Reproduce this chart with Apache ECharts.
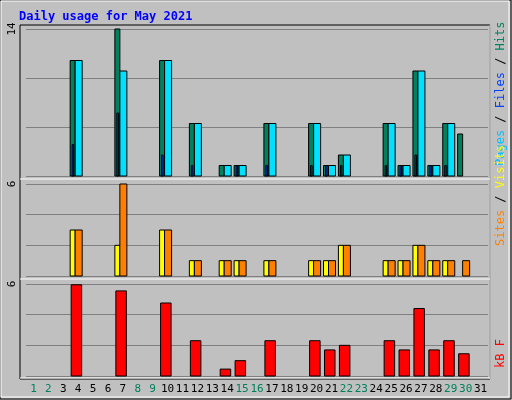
<!DOCTYPE html>
<html><head><meta charset="utf-8">
<script src="https://cdn.jsdelivr.net/npm/echarts@6/dist/echarts.min.js"></script>
<style>html,body{margin:0;padding:0;background:#c0c0c0}#c{width:512px;height:400px}</style>
</head><body><div id="c"></div>
<script>
var days = []
for (var i = 1; i <= 31; i++) days.push(String(i))
var weekend = ['1','2','8','9','15','16','22','23','29','30']
// 每日数据
var hits   = [0,0,0,11,0,0,14,0,0,11,0,5,0,1,1,0,5,0,0,5,1,2,0,0,5,1,10,1,5,4,0]
var files  = [0,0,0,11,0,0,10,0,0,11,0,5,0,1,1,0,5,0,0,5,1,2,0,0,5,1,10,1,5,0,0]
var pages  = [0,0,0,3,0,0,6,0,0,2,0,1,0,0,1,0,1,0,0,1,1,1,0,0,1,1,2,1,1,0,0]
var sites  = [0,0,0,3,0,0,2,0,0,3,0,1,0,1,1,0,1,0,0,1,1,2,0,0,1,1,2,1,1,0,0]
var visits = [0,0,0,3,0,0,6,0,0,3,0,1,0,1,1,0,1,0,0,1,1,2,0,0,1,1,2,1,1,1,0]
var kbytes = [0,0,0,5.95,0,0,5.55,0,0,4.76,0,2.3,0,0.45,1.0,0,2.3,0,0,2.3,1.7,2.0,0,0,2.3,1.7,4.4,1.7,2.3,1.45,0]

var chart = echarts.init(document.getElementById('c'))

function barSeries(data, grid, color, x0, x1) {
  return {
    type: 'custom', xAxisIndex: grid, yAxisIndex: grid,
    data: data.map(function (v, i) { return [i, v] }),
    renderItem: function (params, api) {
      var v = api.value(1)
      if (!v) return null
      var top = api.coord([api.value(0), v])
      var base = api.coord([api.value(0), 0])
      return {
        type: 'rect',
        shape: { x: top[0] + x0, y: top[1], width: x1 - x0, height: base[1] - top[1] },
        style: { fill: color, stroke: '#000', lineWidth: 1 }
      }
    }
  }
}

function yAx(grid, max) {
  return {
    gridIndex: grid, type: 'value', min: 0, max: max, interval: max / 3,
    axisLine: { show: false }, axisTick: { show: false },
    splitLine: { lineStyle: { color: '#808080' } },
    axisLabel: {
      rotate: 90, margin: 8, fontFamily: 'DejaVu Sans Mono', fontSize: 11, color: '#000',
      formatter: function (v) { return v == max ? String(max) : '' }
    }
  }
}

function xAx(grid, showLabel) {
  return {
    gridIndex: grid, type: 'category', data: days,
    axisLine: { show: false }, axisTick: { show: false },
    axisLabel: {
      show: showLabel, interval: 0, margin: 8, fontFamily: 'DejaVu Sans Mono', fontSize: 11,
      formatter: function (v) { return weekend.indexOf(v) >= 0 ? '{w|' + v + '}' : '{d|' + v + '}' },
      rich: { w: { color: '#00805c' }, d: { color: '#000' } }
    }
  }
}

function sideLabel(y, parts) {
  return {
    type: 'text', x: 495, y: y, rotation: Math.PI / 2,
    style: {
      text: parts.map(function (p) { return '{' + p[1] + '|' + p[0] + '}' }).join(''),
      font: '12px DejaVu Sans Mono',
      rich: {
        pg: { fill: '#00c0ff' }, fl: { fill: '#0040ff' }, ht: { fill: '#00805c' },
        st: { fill: '#ff8000' }, vs: { fill: '#ffff00' }, kb: { fill: '#ff0000' }, bk: { fill: '#000' }
      }
    }
  }
}

chart.setOption({
  backgroundColor: '#c0c0c0',
  animation: false,
  title: {
    text: 'Daily usage for May 2021', left: 14, top: 6,
    textStyle: { color: '#0000ff', fontFamily: 'DejaVu Sans Mono', fontSize: 12, fontWeight: 'bold' }
  },
  grid: [
    { left: 26, width: 462, top: 29, height: 147 },
    { left: 26, width: 462, top: 184, height: 92 },
    { left: 26, width: 462, top: 284, height: 92 }
  ],
  xAxis: [xAx(0, false), xAx(1, false), xAx(2, true)],
  yAxis: [yAx(0, 14), yAx(1, 6), yAx(2, 6)],
  graphic: [
    { type: 'rect', z: -10, shape: { x: 0, y: 0, width: 511, height: 399 }, style: { fill: 'none', stroke: '#000' } },
    { type: 'rect', z: -10, shape: { x: 1, y: 1, width: 508, height: 396 }, style: { fill: 'none', stroke: '#fff' } },
    { type: 'rect', z: -10, shape: { x: 20, y: 25, width: 470, height: 354 }, style: { fill: 'none', stroke: '#000' } },
    { type: 'line', shape: { x1: 20, y1: 179, x2: 490, y2: 179 }, style: { stroke: '#fff', lineWidth: 1 } },
    { type: 'line', shape: { x1: 20, y1: 279, x2: 490, y2: 279 }, style: { stroke: '#fff', lineWidth: 1 } },
    { type: 'line', shape: { x1: 20, y1: 378, x2: 490, y2: 378 }, style: { stroke: '#fff', lineWidth: 1 } },
    { type: 'line', shape: { x1: 490, y1: 25, x2: 490, y2: 379 }, style: { stroke: '#fff', lineWidth: 1 } },
    sideLabel(166, [['Pages', 'pg'], [' / ', 'bk'], ['Files', 'fl'], [' / ', 'bk'], ['Hits', 'ht']]),
    sideLabel(246, [['Sites', 'st'], [' / ', 'bk'], ['Visits', 'vs']]),
    sideLabel(368, [['kB F', 'kb']])
  ],
  series: [
    barSeries(hits, 0, '#00805c', -8, -3),
    barSeries(files, 0, '#00e0ff', -3, 4),
    barSeries(pages, 0, '#0040ff', -6, -4.5),
    barSeries(sites, 1, '#ffff00', -8, -3),
    barSeries(visits, 1, '#ff8000', -3, 4),
    barSeries(kbytes, 2, '#ff0000', -7, 3.5)
  ]
})
</script></body></html>
